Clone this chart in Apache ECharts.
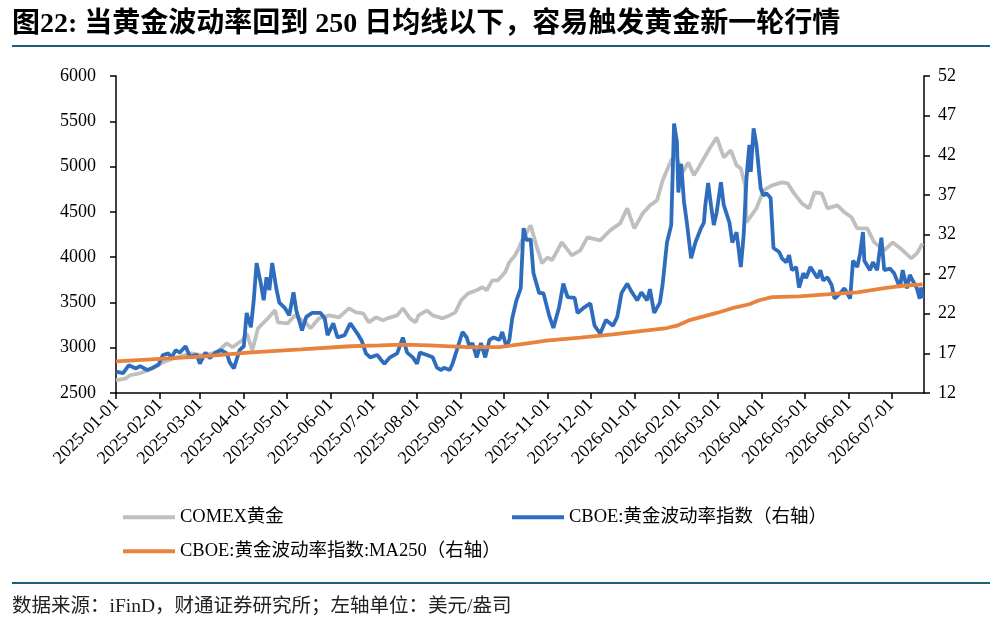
<!DOCTYPE html>
<html><head><meta charset="utf-8">
<script src="https://cdn.jsdelivr.net/npm/echarts@6/dist/echarts.min.js"></script>
<style>html,body{margin:0;padding:0;background:#fff}#c{width:999px;height:628px}</style>
</head><body><div id="c"></div>
<script>
// ---- data ----
const goldDates = ['2025-01-01','2025-01-08','2025-01-11','2025-01-18','2025-01-27','2025-02-03','2025-02-13','2025-02-23','2025-03-03','2025-03-13','2025-03-20','2025-03-24','2025-03-31','2025-04-03','2025-04-07','2025-04-11','2025-04-18','2025-04-23','2025-04-25','2025-05-02','2025-05-07','2025-05-15','2025-05-18','2025-05-24','2025-05-31','2025-06-07','2025-06-14','2025-06-19','2025-06-24','2025-06-28','2025-07-03','2025-07-08','2025-07-11','2025-07-18','2025-07-22','2025-07-27','2025-07-31','2025-08-02','2025-08-08','2025-08-12','2025-08-19','2025-08-24','2025-08-28','2025-09-01','2025-09-06','2025-09-12','2025-09-16','2025-09-19','2025-09-23','2025-09-27','2025-10-02','2025-10-05','2025-10-09','2025-10-12','2025-10-14','2025-10-20','2025-10-24','2025-10-28','2025-11-01','2025-11-04','2025-11-11','2025-11-18','2025-11-24','2025-11-29','2025-12-08','2025-12-15','2025-12-22','2025-12-27','2026-01-01','2026-01-07','2026-01-12','2026-01-17','2026-01-21','2026-01-27','2026-01-30','2026-02-04','2026-02-08','2026-02-12','2026-02-17','2026-02-23','2026-02-28','2026-03-05','2026-03-10','2026-03-14','2026-03-17','2026-03-20','2026-03-21','2026-03-28','2026-04-02','2026-04-08','2026-04-15','2026-04-19','2026-04-23','2026-04-29','2026-05-04','2026-05-08','2026-05-13','2026-05-17','2026-05-24','2026-05-29','2026-06-03','2026-06-07','2026-06-14','2026-06-19','2026-06-26','2026-07-02','2026-07-09','2026-07-15','2026-07-19','2026-07-23'];
const goldValues = [2640,2662,2696,2718,2773,2839,2895,2938,2916,2949,3049,3005,3082,3159,2971,3214,3325,3413,3280,3269,3357,3269,3214,3325,3357,3335,3435,3391,3380,3280,3335,3302,3324,3357,3435,3324,3280,3357,3413,3357,3324,3357,3391,3523,3600,3634,3667,3634,3744,3744,3833,3943,4020,4109,4186,4351,4130,3932,3998,3965,4164,4020,4075,4219,4186,4296,4373,4539,4318,4484,4571,4627,4848,5069,5130,4935,5046,4903,5035,5200,5322,5101,5179,5013,4980,4792,4384,4539,4737,4793,4826,4815,4715,4594,4539,4715,4704,4539,4572,4495,4440,4318,4318,4163,4075,4163,4075,3987,4042,4152];

const gvzDates = ['2025-01-01','2025-01-06','2025-01-10','2025-01-15','2025-01-18','2025-01-23','2025-01-27','2025-01-31','2025-02-03','2025-02-07','2025-02-09','2025-02-12','2025-02-15','2025-02-19','2025-02-22','2025-02-27','2025-03-01','2025-03-05','2025-03-08','2025-03-12','2025-03-16','2025-03-20','2025-03-22','2025-03-25','2025-03-29','2025-04-01','2025-04-03','2025-04-06','2025-04-08','2025-04-10','2025-04-13','2025-04-15','2025-04-17','2025-04-19','2025-04-21','2025-04-24','2025-04-26','2025-04-30','2025-05-03','2025-05-06','2025-05-08','2025-05-12','2025-05-15','2025-05-19','2025-05-25','2025-05-28','2025-05-30','2025-06-03','2025-06-06','2025-06-11','2025-06-15','2025-06-20','2025-06-23','2025-06-26','2025-06-29','2025-07-04','2025-07-07','2025-07-09','2025-07-13','2025-07-18','2025-07-22','2025-07-25','2025-07-29','2025-08-01','2025-08-03','2025-08-08','2025-08-12','2025-08-15','2025-08-18','2025-08-20','2025-08-24','2025-08-26','2025-08-29','2025-09-02','2025-09-05','2025-09-07','2025-09-09','2025-09-12','2025-09-15','2025-09-18','2025-09-21','2025-09-24','2025-09-28','2025-09-30','2025-10-03','2025-10-05','2025-10-07','2025-10-10','2025-10-13','2025-10-15','2025-10-17','2025-10-20','2025-10-22','2025-10-26','2025-10-29','2025-11-02','2025-11-05','2025-11-09','2025-11-12','2025-11-15','2025-11-20','2025-11-22','2025-11-26','2025-12-01','2025-12-04','2025-12-08','2025-12-12','2025-12-17','2025-12-20','2025-12-23','2025-12-27','2025-12-30','2026-01-03','2026-01-06','2026-01-10','2026-01-12','2026-01-15','2026-01-19','2026-01-21','2026-01-24','2026-01-27','2026-01-29','2026-01-31','2026-02-01','2026-02-03','2026-02-05','2026-02-07','2026-02-10','2026-02-13','2026-02-17','2026-02-19','2026-02-20','2026-02-22','2026-02-24','2026-02-26','2026-02-28','2026-03-03','2026-03-05','2026-03-09','2026-03-11','2026-03-14','2026-03-17','2026-03-19','2026-03-21','2026-03-23','2026-03-24','2026-03-26','2026-03-28','2026-03-31','2026-04-02','2026-04-04','2026-04-07','2026-04-09','2026-04-13','2026-04-15','2026-04-18','2026-04-20','2026-04-22','2026-04-25','2026-04-27','2026-04-30','2026-05-02','2026-05-05','2026-05-10','2026-05-12','2026-05-14','2026-05-17','2026-05-20','2026-05-22','2026-05-26','2026-05-29','2026-06-02','2026-06-04','2026-06-07','2026-06-09','2026-06-11','2026-06-12','2026-06-16','2026-06-18','2026-06-21','2026-06-24','2026-06-26','2026-06-30','2026-07-03','2026-07-07','2026-07-09','2026-07-12','2026-07-14','2026-07-16','2026-07-19','2026-07-21','2026-07-22','2026-07-23'];
const gvzValues = [14.7,14.5,15.5,15.1,15.4,14.9,15.2,15.6,16.8,17.0,16.4,17.4,17.1,17.9,16.6,16.8,15.7,17.1,16.4,17.1,17.4,17.0,15.9,15.1,17.4,17.9,22.1,20.3,23.7,28.4,25.8,23.7,26.6,25.0,28.4,25.1,23.4,22.7,21.8,24.7,22.4,19.9,21.6,22.1,22.1,21.4,19.3,20.8,19.0,19.3,20.8,19.5,18.6,17.0,16.5,16.8,16.1,15.7,16.5,17.0,19.0,17.1,16.5,15.7,17.1,16.8,16.5,15.2,14.9,15.2,14.9,15.7,17.4,19.7,19.0,17.8,18.3,16.5,18.3,16.5,18.7,19.0,18.7,19.7,17.8,18.7,21.4,23.7,25.2,32.8,31.3,31.4,27.1,24.6,24.6,21.8,20.2,22.8,25.8,24.1,24.0,22.1,22.7,23.3,20.5,19.5,21.2,20.5,21.6,24.6,25.8,24.8,23.7,24.7,23.7,25.1,22.1,23.4,25.8,31.0,33.2,46.0,43.7,37.3,40.9,36.1,33.5,29.0,31.0,32.8,33.5,35.7,38.5,35.7,33.2,34.8,38.6,35.7,33.5,31.0,32.3,27.9,31.9,39.1,43.3,39.9,45.4,43.3,37.8,36.9,37.2,36.6,30.3,29.8,29.0,28.5,29.4,27.5,27.9,25.3,27.1,26.5,27.9,26.5,27.5,26.2,26.6,25.6,23.9,24.6,25.2,23.9,28.7,27.9,29.6,32.3,28.7,27.5,28.5,27.5,31.6,27.5,27.7,27.1,25.3,27.5,25.2,26.9,26.2,25.2,23.9,25.3,24.0];

const maDates = ['2025-01-01','2025-03-01','2025-04-04','2025-05-11','2025-06-15','2025-07-06','2025-07-22','2025-08-10','2025-09-05','2025-09-28','2025-10-07','2025-10-19','2025-10-31','2025-11-24','2025-12-17','2026-01-10','2026-01-24','2026-01-31','2026-02-09','2026-02-28','2026-03-11','2026-03-23','2026-03-30','2026-04-08','2026-04-27','2026-05-21','2026-06-07','2026-06-25','2026-07-07','2026-07-23'];
const maValues = [16.0,16.6,17.1,17.5,17.9,18.0,18.1,18.0,17.8,17.8,18.0,18.3,18.6,19.0,19.4,19.9,20.2,20.5,21.2,22.1,22.7,23.2,23.7,24.1,24.2,24.5,24.7,25.2,25.5,25.7];

const seriesNames = ['COMEX黄金','CBOE:黄金波动率指数（右轴）','CBOE:黄金波动率指数:MA250（右轴）'];
const titleText = '图22: 当黄金波动率回到 250 日均线以下，容易触发黄金新一轮行情';
const sourceText = '数据来源：iFinD，财通证券研究所；左轴单位：美元/盎司';

// ---- chart ----
const SERIF = "'Liberation Serif','Times New Roman','Noto Sans CJK SC',serif";
const zip = (d, v) => d.map((x, i) => [x, v[i]]);
const pad = n => (n < 10 ? '0' : '') + n;
const fmtDate = v => { const d = new Date(v); return d.getFullYear() + '-' + pad(d.getMonth() + 1) + '-' + pad(d.getDate()); };
const axisLineStyle = { color: '#000', width: 1.5 };

const chart = echarts.init(document.getElementById('c'));
const legendBase = { padding: 0, itemWidth: 52, itemHeight: 4, icon: 'rect', textStyle: { fontFamily: SERIF, fontSize: 18.5, color: '#000' } };
chart.setOption({
  animation: false,
  grid: { left: 116, right: 75, top: 76, bottom: 235 },
  xAxis: {
    type: 'time', min: '2025-01-01', max: '2026-07-24',
    splitNumber: 19, minInterval: 28 * 864e5, maxInterval: 31 * 864e5,
    axisLine: { lineStyle: axisLineStyle },
    axisTick: { show: true, length: 6, lineStyle: axisLineStyle },
    axisLabel: { rotate: 45, fontFamily: SERIF, fontSize: 18, color: '#000', margin: 9, formatter: v => fmtDate(v) },
    splitLine: { show: false }
  },
  yAxis: [
    { type: 'value', min: 2500, max: 6000, interval: 500, position: 'left',
      axisLine: { show: true, lineStyle: axisLineStyle }, axisTick: { show: true, length: 6, lineStyle: axisLineStyle },
      axisLabel: { fontFamily: SERIF, fontSize: 18, color: '#000', margin: 20, formatter: v => String(v) }, splitLine: { show: false } },
    { type: 'value', min: 12, max: 52, interval: 5, position: 'right',
      axisLine: { show: true, lineStyle: axisLineStyle }, axisTick: { show: true, length: 6, lineStyle: axisLineStyle },
      axisLabel: { fontFamily: SERIF, fontSize: 18, color: '#000', margin: 14, formatter: v => String(v) }, splitLine: { show: false } }
  ],
  legend: [
    Object.assign({ data: [seriesNames[0]], left: 123, top: 508 }, legendBase),
    Object.assign({ data: [seriesNames[1]], left: 512, top: 508 }, legendBase),
    Object.assign({ data: [seriesNames[2]], left: 123, top: 542 }, legendBase)
  ],
  series: [
    { name: seriesNames[0], type: 'line', yAxisIndex: 0, showSymbol: false, color: '#BFBFBF', lineStyle: { width: 3.8, color: '#BFBFBF' }, data: zip(goldDates, goldValues) },
    { name: seriesNames[1], type: 'line', yAxisIndex: 1, showSymbol: false, color: '#2E6DBD', lineStyle: { width: 3.8, color: '#2E6DBD' }, data: zip(gvzDates, gvzValues) },
    { name: seriesNames[2], type: 'line', yAxisIndex: 1, showSymbol: false, color: '#E9823C', lineStyle: { width: 3.8, color: '#E9823C' }, data: zip(maDates, maValues) }
  ],
  graphic: [
    { type: 'text', left: 12, top: 11, style: { text: titleText, fill: '#000', font: "bold 28px 'Liberation Serif','Noto Sans CJK SC',serif" } },
    { type: 'line', shape: { x1: 12, y1: 46, x2: 990, y2: 46 }, style: { stroke: '#1B5F7C', lineWidth: 2 } },
    { type: 'line', shape: { x1: 12, y1: 583, x2: 990, y2: 583 }, style: { stroke: '#1B5F7C', lineWidth: 2 } },
    { type: 'text', left: 12, top: 597, style: { text: sourceText, fill: '#222', font: "19.5px 'Liberation Serif','Noto Sans CJK SC',serif" } }
  ]
});
</script></body></html>
